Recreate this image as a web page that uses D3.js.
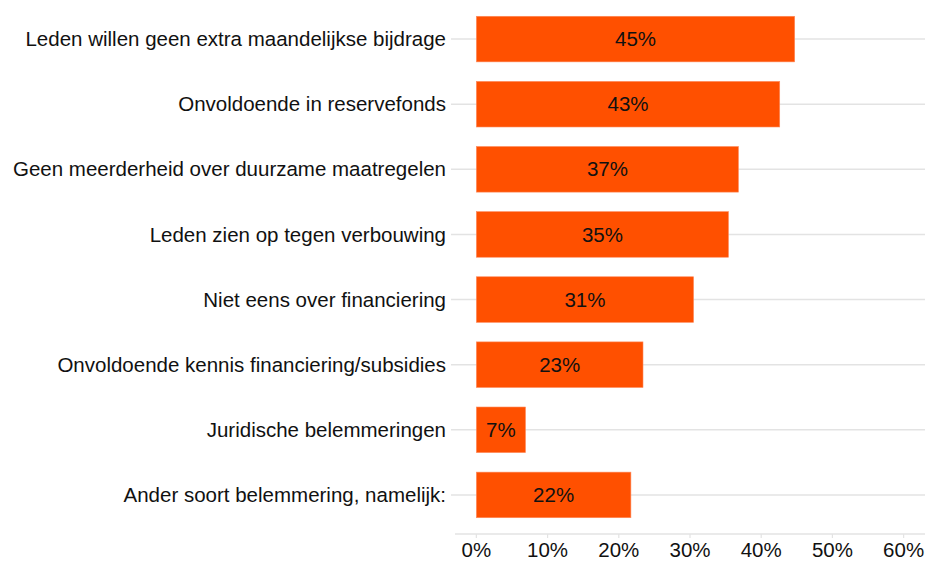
<!DOCTYPE html>
<html>
<head>
<meta charset="utf-8">
<script src="https://cdn.jsdelivr.net/npm/d3@7"></script>
<style>
  body { margin: 0; background: #fff; }
  text { font-family: "Liberation Sans", Arial, sans-serif; }
</style>
</head>
<body>
<div id="chart"></div>
<script>
const categories = [
  "Leden willen geen extra maandelijkse bijdrage",
  "Onvoldoende in reservefonds",
  "Geen meerderheid over duurzame maatregelen",
  "Leden zien op tegen verbouwing",
  "Niet eens over financiering",
  "Onvoldoende kennis financiering/subsidies",
  "Juridische belemmeringen",
  "Ander soort belemmering, namelijk:"
];
const values = [0.447, 0.426, 0.368, 0.354, 0.305, 0.234, 0.069, 0.217];
const xTicks = [0, 0.1, 0.2, 0.3, 0.4, 0.5, 0.6];

const width = 925, height = 561;
const plotLeft = 455, plotRight = 925, plotTop = 0, plotBottom = 534;
const fontSize = 20.5;
const gridColor = "#e3e3e3";

const svg = d3.select("#chart").append("svg")
  .attr("width", width)
  .attr("height", height);

const x = d3.scaleLinear().domain([-0.03, 0.63]).range([plotLeft, plotRight]);
const y = d3.scalePoint().domain(categories).range([plotTop, plotBottom]).padding(0.6);
const barH = y.step() * 0.7;

// horizontal grid lines (with short ticks into the label margin)
svg.append("g").selectAll("line")
  .data(categories)
  .join("line")
  .attr("x1", plotLeft - 4).attr("x2", plotRight)
  .attr("y1", d => y(d)).attr("y2", d => y(d))
  .attr("stroke", gridColor)
  .attr("stroke-width", 1.5);

// bottom axis line
svg.append("line")
  .attr("x1", plotLeft).attr("x2", plotRight)
  .attr("y1", plotBottom).attr("y2", plotBottom)
  .attr("stroke", gridColor)
  .attr("stroke-width", 1.5);

// x ticks
svg.append("g").selectAll("line")
  .data(xTicks)
  .join("line")
  .attr("x1", d => x(d)).attr("x2", d => x(d))
  .attr("y1", plotBottom).attr("y2", plotBottom + 4)
  .attr("stroke", gridColor)
  .attr("stroke-width", 1.2);

// bars
svg.append("g").selectAll("rect")
  .data(categories)
  .join("rect")
  .attr("x", x(0))
  .attr("y", d => y(d) - barH / 2)
  .attr("width", (d, i) => x(values[i]) - x(0))
  .attr("height", barH)
  .attr("fill", "#ff5000")
  .attr("stroke", "#ff8a5c")
  .attr("stroke-width", 0.6);

// value labels
svg.append("g").selectAll("text")
  .data(categories)
  .join("text")
  .attr("x", (d, i) => (x(0) + x(values[i])) / 2)
  .attr("y", d => y(d))
  .attr("dy", "0.35em")
  .attr("text-anchor", "middle")
  .attr("font-size", fontSize)
  .attr("fill", "#111")
  .text((d, i) => Math.round(values[i] * 100) + "%");

// category labels
svg.append("g").selectAll("text")
  .data(categories)
  .join("text")
  .attr("x", plotLeft - 9)
  .attr("y", d => y(d))
  .attr("dy", "0.35em")
  .attr("text-anchor", "end")
  .attr("font-size", fontSize)
  .attr("fill", "#111")
  .text(d => d);

// x tick labels
svg.append("g").selectAll("text")
  .data(xTicks)
  .join("text")
  .attr("x", d => x(d))
  .attr("y", 556.5)
  .attr("text-anchor", "middle")
  .attr("font-size", fontSize)
  .attr("fill", "#111")
  .text(d => d3.format(".0%")(d));
</script>
</body>
</html>
